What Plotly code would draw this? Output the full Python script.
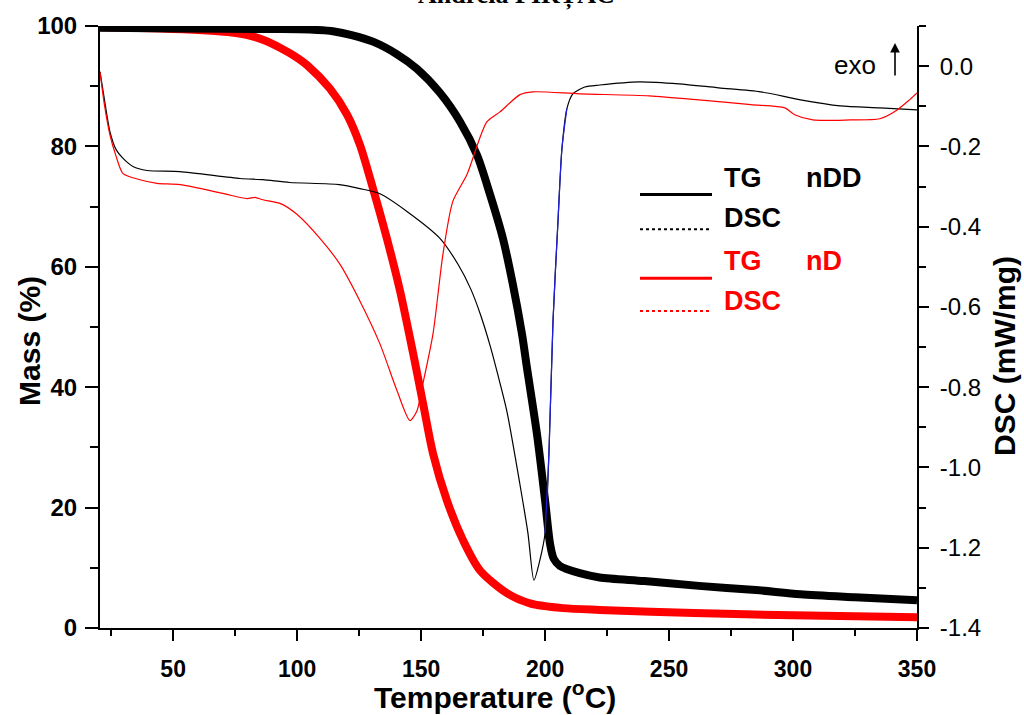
import plotly.graph_objects as go

# ---- data ----
T_tg_nDD = [20.5, 53, 90, 105, 115, 122, 130.6, 140.3, 148.3, 157.6, 165.7, 172.5, 177.8, 183, 187, 190.7,
            192.7, 196.7, 200, 202, 203.5, 206, 214, 222, 240, 262, 285, 303, 325, 350]
mass_nDD = [99.7, 99.6, 99.5, 99.4, 99.1, 98.5, 97.4, 95.3, 92.9, 88.9, 84.1, 78.6, 72.0, 64.7, 57.1, 48.8,
            43.2, 32.3, 21.2, 14.0, 11.5, 10.3, 9.1, 8.4, 7.8, 7.0, 6.3, 5.6, 5.1, 4.6]

T_tg_nD = [20.5, 45, 62, 72, 80, 87, 93.1, 99, 104, 113.2, 120.1, 125.3, 130.6, 136.2, 141.5, 146.7, 150.7,
           154.8, 160.4, 166.9, 173.7, 184.6, 193.9, 207.2, 222, 260, 300, 350]
mass_nD = [99.8, 99.6, 99.3, 99.0, 98.5, 97.6, 96.4, 95.0, 93.5, 89.6, 85.3, 80.3, 73.0, 64.7, 56.0, 45.8,
           37.5, 29.0, 21.2, 14.6, 9.6, 5.8, 4.1, 3.3, 3.0, 2.5, 2.1, 1.8]

T_dsc_nDD = [20.5, 22.1, 24.5, 27, 29.8, 33.8, 39.5, 52.8, 77, 86.2, 97, 117, 125.3, 133.4, 144.3, 157.6,
             165, 170, 174, 178, 181, 184.6, 189.8, 193.1, 195.5, 197.9, 200, 201.6, 203.2, 205.2, 206.8,
             208.8, 211.2, 216, 222, 238, 254, 270, 287, 303, 319, 335, 350]
dsc_nDD = [-0.014, -0.076, -0.163, -0.208, -0.230, -0.250, -0.260, -0.263, -0.280, -0.283, -0.290, -0.295,
           -0.305, -0.318, -0.362, -0.429, -0.495, -0.555, -0.620, -0.700, -0.770, -0.860, -1.040, -1.164,
           -1.281, -1.231, -1.164, -0.958, -0.635, -0.387, -0.206, -0.106, -0.069, -0.052, -0.047, -0.039,
           -0.044, -0.054, -0.064, -0.084, -0.099, -0.104, -0.109]
blue_from, blue_to = 26, 31   # rising segment of the nDD DSC drawn in blue in the reference

T_dsc_nD = [20.5, 22.1, 24.5, 27, 29.8, 36.6, 43.5, 52.8, 70, 79.8, 83, 86.2, 93.1, 99.9, 109.2, 117.3,
            125.3, 133.4, 140.3, 145.5, 148.3, 150.7, 154.8, 158.8, 162.8, 168.5, 176.5, 181.8, 189.9,
            195.1, 214, 242, 262, 283, 296.7, 300.7, 308, 323, 335, 342, 347, 350]
dsc_nD = [-0.014, -0.089, -0.171, -0.225, -0.268, -0.283, -0.292, -0.295, -0.317, -0.330, -0.327, -0.333,
          -0.342, -0.369, -0.429, -0.494, -0.585, -0.692, -0.809, -0.883, -0.859, -0.792, -0.667, -0.469,
          -0.337, -0.270, -0.139, -0.114, -0.071, -0.064, -0.069, -0.074, -0.084, -0.096, -0.104, -0.121,
          -0.134, -0.134, -0.131, -0.109, -0.084, -0.067]

x_ticks = [50, 100, 150, 200, 250, 300, 350]
mass_ticks = [0, 20, 40, 60, 80, 100]
dsc_ticks = [-1.4, -1.2, -1.0, -0.8, -0.6, -0.4, -0.2, 0.0]
dsc_ticktext = ["-1.4", "-1.2", "-1.0", "-0.8", "-0.6", "-0.4", "-0.2", "0.0"]

legend_labels = [("TG", "nDD", "black"), ("DSC", "", "black"), ("TG", "nD", "red"), ("DSC", "", "red")]

# ---- figure ----
fig = go.Figure()
fig.add_trace(go.Scatter(x=T_dsc_nDD, y=dsc_nDD, yaxis="y2", mode="lines",
                         line=dict(color="black", width=1.2, shape="spline", smoothing=0.7), showlegend=False))
fig.add_trace(go.Scatter(x=T_dsc_nDD[blue_from:blue_to + 1], y=dsc_nDD[blue_from:blue_to + 1], yaxis="y2",
                         mode="lines", line=dict(color="#2020e0", width=1.2, shape="spline", smoothing=0.7),
                         showlegend=False))
fig.add_trace(go.Scatter(x=T_dsc_nD, y=dsc_nD, yaxis="y2", mode="lines",
                         line=dict(color="red", width=1.2, shape="spline", smoothing=0.7), showlegend=False))
fig.add_trace(go.Scatter(x=T_tg_nD, y=mass_nD, mode="lines",
                         line=dict(color="red", width=8, shape="spline", smoothing=0.8), showlegend=False))
fig.add_trace(go.Scatter(x=T_tg_nDD, y=mass_nDD, mode="lines",
                         line=dict(color="black", width=8, shape="spline", smoothing=0.8), showlegend=False))

W, H = 1024, 715
L, R, T, B = 100, 107, 24, 87
pw, ph = W - L - R, H - T - B


def px(x):
    return (x - L) / pw


def py(y):
    return (H - B - y) / ph


tick_font_bold = dict(family="Arial, Liberation Sans, sans-serif", size=24, color="black", weight="bold")

fig.update_layout(
    width=W, height=H, margin=dict(l=L, r=R, t=T, b=B),
    paper_bgcolor="white", plot_bgcolor="white", showlegend=False,
    xaxis=dict(range=[20.5, 350], tickmode="array", tickvals=x_ticks, showgrid=False, zeroline=False,
               showline=True, linecolor="black", linewidth=2, ticks="outside", ticklen=11, tickwidth=2,
               tickcolor="black", ticklabelstandoff=8,
               minor=dict(tickmode="array", tickvals=[25, 75, 125, 175, 225, 275, 325], ticks="outside",
                          ticklen=6, tickwidth=2, tickcolor="black"),
               tickfont=dict(family="Arial, Liberation Sans, sans-serif", size=23, color="black", weight="bold")),
    yaxis=dict(range=[0, 100], tickmode="array", tickvals=mass_ticks, showgrid=False, zeroline=False,
               showline=True, linecolor="black", linewidth=2, ticks="outside", ticklen=13, tickwidth=2,
               tickcolor="black", ticklabelstandoff=3,
               minor=dict(tickmode="array", tickvals=[10, 30, 50, 70, 90], ticks="outside",
                          ticklen=8, tickwidth=2, tickcolor="black"),
               tickfont=tick_font_bold),
    yaxis2=dict(range=[-1.4, 0.1], overlaying="y", side="right", tickmode="array", tickvals=dsc_ticks,
                ticktext=dsc_ticktext, showgrid=False, zeroline=False, showline=True, linecolor="black",
                linewidth=2, ticks="outside", ticklen=10, tickwidth=2, tickcolor="black", ticklabelstandoff=6,
                minor=dict(tickmode="array", tickvals=[-1.3, -1.1, -0.9, -0.7, -0.5, -0.3, -0.1, 0.1],
                           ticks="outside", ticklen=7, tickwidth=2, tickcolor="black"),
                tickfont=dict(family="Arial, Liberation Sans, sans-serif", size=24, color="black")),
)

ann = []
# axis titles
axis_font = dict(family="Arial, Liberation Sans, sans-serif", size=30, color="black", weight="bold")
ann.append(dict(text="Mass (%)", x=px(30), y=py(340), xref="paper", yref="paper", textangle=-90,
                showarrow=False, font=axis_font, xanchor="center", yanchor="middle"))
ann.append(dict(text="DSC (mW/mg)", x=px(1005), y=py(355), xref="paper", yref="paper", textangle=-90,
                showarrow=False, font=axis_font, xanchor="center", yanchor="middle"))
ann.append(dict(text="Temperature (<sup>o</sup>C)", x=px(495), y=py(695), xref="paper", yref="paper",
                showarrow=False, font=axis_font, xanchor="center", yanchor="middle"))
# cropped author line at the very top
ann.append(dict(text="Andreia PIRȚAC", x=px(516), y=py(-7), xref="paper", yref="paper", showarrow=False,
                font=dict(family="Liberation Serif, Times New Roman, serif", size=26, color="black",
                          weight="bold"), xanchor="center", yanchor="middle"))
# exo arrow
ann.append(dict(text="exo", x=px(855), y=py(63), xref="paper", yref="paper", showarrow=False,
                font=dict(family="Arial, Liberation Sans, sans-serif", size=26, color="black"),
                xanchor="center", yanchor="middle"))
ann.append(dict(text="", x=px(895), y=py(41), xref="paper", yref="paper", showarrow=True, ax=0, ay=34,
                arrowhead=2, arrowsize=1.2, arrowwidth=1.6, arrowcolor="black"))

# legend (drawn by hand to reproduce the original layout)
leg_text_y = [177, 217, 260, 300]
leg_line_y = [193, 228, 277, 310]
shapes = []
for (lab1, lab2, col), ty, ly in zip(legend_labels, leg_text_y, leg_line_y):
    lf = dict(family="Arial, Liberation Sans, sans-serif", size=27, color=col, weight="bold")
    ann.append(dict(text=lab1, x=px(722), y=py(ty), xref="paper", yref="paper", showarrow=False,
                    font=lf, xanchor="left", yanchor="middle"))
    if lab2:
        ann.append(dict(text=lab2, x=px(804), y=py(ty), xref="paper", yref="paper", showarrow=False,
                        font=lf, xanchor="left", yanchor="middle"))
    dotted = lab1 == "DSC"
    shapes.append(dict(type="line", xref="paper", yref="paper", x0=px(640), x1=px(712), y0=py(ly), y1=py(ly),
                       line=dict(color=col, width=2 if dotted else 3, dash="dot" if dotted else "solid")))

fig.update_layout(annotations=ann, shapes=shapes)
fig.write_html("out.html", config={"displayModeBar": False},
               post_script="document.body.style.margin='0px';document.body.style.overflow='hidden';")
